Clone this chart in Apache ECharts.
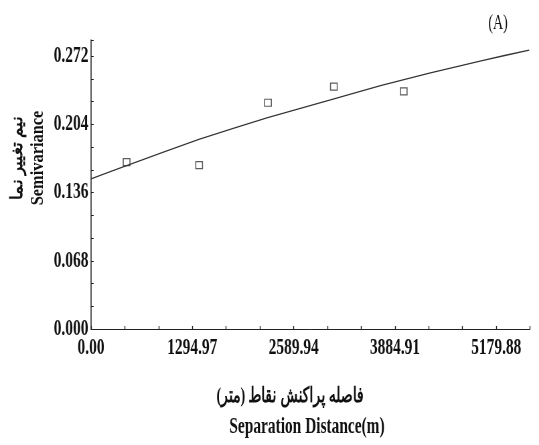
<!DOCTYPE html>
<html>
<head>
<meta charset="utf-8">
<script src="https://cdn.jsdelivr.net/npm/echarts@6/dist/echarts.min.js"></script>
<style>
html,body{margin:0;padding:0;background:#fff;overflow:hidden;}
#wrap{width:539px;height:445px;overflow:hidden;position:relative;}
#c{width:805px;height:445px;transform:scaleX(0.6696);transform-origin:0 0;position:absolute;left:0;top:0;}
</style>
</head>
<body>
<div id="wrap"><div id="c"></div></div>
<script>
// Experimental semivariance points (distance m, semivariance)
const lagDistance = [455, 1382, 2262, 3104, 3997];
const semivariance = [0.1663, 0.1633, 0.2255, 0.2415, 0.2368];
// Fitted model curve
const modelDistance = [0, 455, 1378, 2258, 3049, 3700, 4325, 5000, 5601];
const modelValue = [0.1495, 0.1628, 0.1889, 0.2106, 0.2280, 0.2425, 0.2550, 0.2675, 0.2780];
// Axis ticks
const xInterval = 1294.97;
const xMax = 5611.5;
const yInterval = 0.068;
const yMax = 0.288;

const S = 0.6696; // horizontal squeeze of the picture
const font = '"Liberation Serif", "DejaVu Serif", serif';
const chart = echarts.init(document.getElementById('c'));
chart.setOption({
  animation: false,
  backgroundColor: '#fff',
  grid: {left: 91 / S, right: 9 / S, top: 40, bottom: 116, containLabel: false},
  xAxis: {
    type: 'value', min: 0, max: xMax, interval: xInterval,
    axisLine: {show: true, lineStyle: {color: '#222', width: 1}},
    axisTick: {show: true, inside: true, length: 3, lineStyle: {color: '#222', width: 1.4}},
    minorTick: {show: true, splitNumber: 3, length: 3, lineStyle: {color: '#222', width: 1.4}},
    splitLine: {show: false},
    axisLabel: {
      margin: 8, color: '#111', fontFamily: font, fontWeight: 'bold', fontSize: 23,
      showMaxLabel: false,
      formatter: v => v.toFixed(2)
    }
  },
  yAxis: {
    type: 'value', min: 0, max: yMax, interval: yInterval,
    axisLine: {show: true, lineStyle: {color: '#222', width: 1.5}},
    axisTick: {show: true, inside: true, length: 4, lineStyle: {color: '#222'}},
    minorTick: {show: true, splitNumber: 3, length: 4, lineStyle: {color: '#222'}},
    splitLine: {show: false},
    axisLabel: {
      margin: 4, color: '#111', fontFamily: font, fontWeight: 'bold', fontSize: 23,
      showMaxLabel: false,
      formatter: v => v.toFixed(3)
    }
  },
  graphic: [
    {type: 'text', x: 498 / S, y: 23,
      style: {text: '(A)', font: '21px ' + font, fill: '#111', textAlign: 'center', textVerticalAlign: 'middle'}},
    {type: 'text', x: 18 / S, y: 158, rotation: Math.PI / 2, scaleX: 0.85, scaleY: 1.25,
      style: {text: 'نیم تغییر نما', font: 'bold 20px ' + font, fill: '#111', textAlign: 'center', textVerticalAlign: 'middle'}},
    {type: 'text', x: 38 / S, y: 158, rotation: Math.PI / 2, scaleX: 0.78, scaleY: 1.35,
      style: {text: 'Semivariance', font: 'bold 21px ' + font, fill: '#111', textAlign: 'center', textVerticalAlign: 'middle'}},
    {type: 'text', x: 290 / S, y: 397,
      style: {text: 'فاصله پراکنش نقاط (متر)', font: 'bold 21px ' + font, fill: '#111', textAlign: 'center', textVerticalAlign: 'middle'}},
    {type: 'text', x: 307 / S, y: 427,
      style: {text: 'Separation Distance(m)', font: 'bold 23px ' + font, fill: '#111', textAlign: 'center', textVerticalAlign: 'middle'}}
  ],
  series: [
    {
      type: 'line', smooth: 0.2, showSymbol: false, symbol: 'none',
      data: modelDistance.map((d, i) => [d, modelValue[i]]),
      lineStyle: {color: '#333', width: 1.3}
    },
    {
      type: 'scatter', symbol: 'rect', symbolSize: [10, 7],
      data: lagDistance.map((d, i) => [d, semivariance[i]]),
      itemStyle: {color: 'rgba(255,255,255,0)', borderColor: '#333', borderWidth: 1.3}
    }
  ]
});
</script>
</body>
</html>
